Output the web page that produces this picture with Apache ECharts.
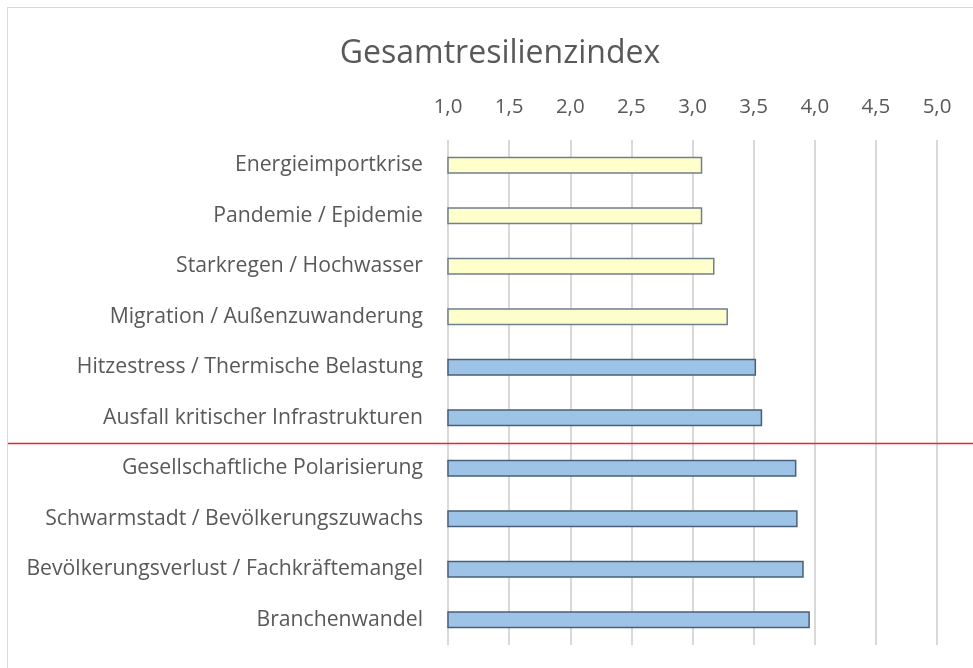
<!DOCTYPE html>
<html>
<head>
<meta charset="utf-8">
<script src="https://cdn.jsdelivr.net/npm/echarts@6/dist/echarts.min.js"></script>
<style>
html,body{margin:0;padding:0;background:#fff;}
#frame{position:absolute;left:7px;top:7px;width:1000px;height:700px;border:1px solid #d9d9d9;box-sizing:border-box;}
#chart{position:absolute;left:0;top:0;width:973px;height:668px;}
</style>
</head>
<body>
<div id="frame"></div>
<div id="chart"></div>
<script>
const categories = [
  "Energieimportkrise",
  "Pandemie / Epidemie",
  "Starkregen / Hochwasser",
  "Migration / Außenzuwanderung",
  "Hitzestress / Thermische Belastung",
  "Ausfall kritischer Infrastrukturen",
  "Gesellschaftliche Polarisierung",
  "Schwarmstadt / Bevölkerungszuwachs",
  "Bevölkerungsverlust / Fachkräftemangel",
  "Branchenwandel"
];
const values = [3.08, 3.08, 3.18, 3.29, 3.52, 3.57, 3.85, 3.86, 3.91, 3.96];
const groups = ["gelb","gelb","gelb","gelb","blau","blau","blau","blau","blau","blau"];
const dividerAfter = "Ausfall kritischer Infrastrukturen";
const tickMin = 1.0, tickMax = 5.0, tickStep = 0.5;

const fills = {gelb: "#FFFFCC", blau: "#9DC3E6"};
const borders = {gelb: "#6f7f8f", blau: "#4a5f78"};
const font = "'Open Sans', 'Noto Sans', sans-serif";

const chart = echarts.init(document.getElementById('chart'), null, {renderer: 'canvas'});
const option = {
  animation: false,
  backgroundColor: 'transparent',
  title: {
    text: "Gesamtresilienzindex",
    left: 495, top: 33, textAlign: 'center',
    textStyle: {fontFamily: font, fontSize: 32, fontWeight: 'normal', color: '#595959'}
  },
  grid: {left: 448, right: 36, top: 140, bottom: 23, containLabel: false},
  xAxis: {
    type: 'value', position: 'top', min: tickMin, max: tickMax, interval: tickStep,
    axisLine: {show: false}, axisTick: {show: false},
    splitLine: {show: true, lineStyle: {color: '#d9d9d9', width: 2}},
    axisLabel: {
      margin: 22, fontFamily: font, fontSize: 20.5, color: '#595959',
      formatter: v => v.toFixed(1).replace('.', ',')
    }
  },
  yAxis: {
    type: 'category', data: categories, inverse: true,
    axisLine: {show: false}, axisTick: {show: false},
    axisLabel: {margin: 25, fontFamily: font, fontSize: 21.2, color: '#595959'}
  },
  series: [{
    type: 'bar',
    barWidth: 17,
    data: values.map((v, i) => ({
      value: v,
      itemStyle: {color: fills[groups[i]], borderColor: borders[groups[i]], borderWidth: 1.5}
    }))
  }]
};
chart.setOption(option);

function drawDivider() {
  const idx = categories.indexOf(dividerAfter);
  const y1 = chart.convertToPixel({yAxisIndex: 0}, categories[idx]);
  const y2 = chart.convertToPixel({yAxisIndex: 0}, categories[idx + 1]);
  const y = Math.round((y1 + y2) / 2) + 0.5;
  chart.setOption({
    graphic: [{
      type: 'line', z: 100,
      shape: {x1: 8, y1: y, x2: 973, y2: y},
      style: {stroke: '#e8262b', lineWidth: 1.5}
    }]
  });
}
drawDivider();
</script>
</body>
</html>
